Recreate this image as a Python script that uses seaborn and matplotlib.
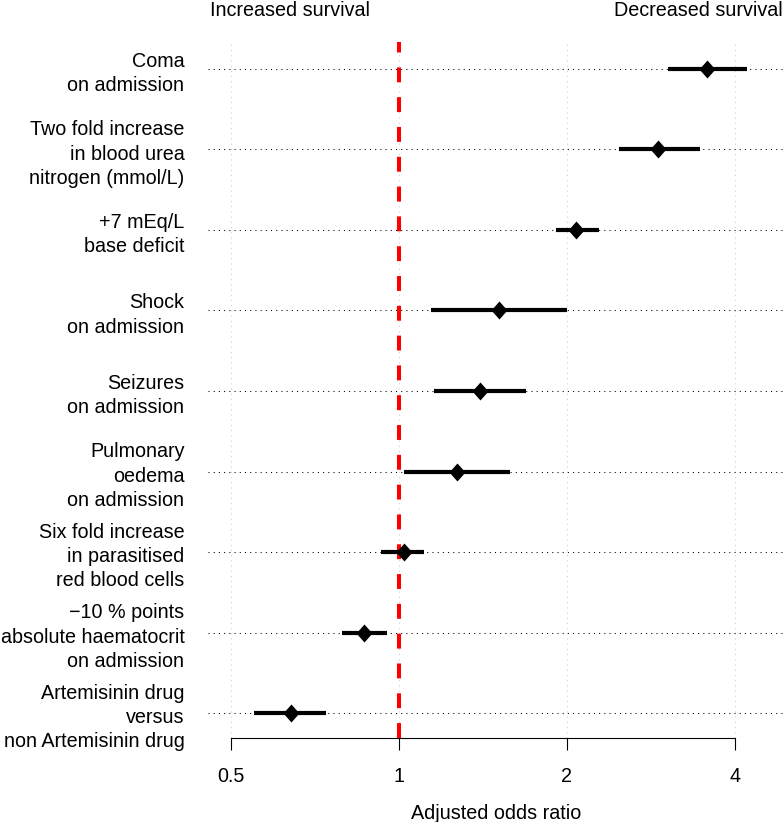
import matplotlib
matplotlib.use("Agg")
import matplotlib.pyplot as plt
import seaborn as sns
import pandas as pd
import numpy as np

labels = [
    "Coma\non admission",
    "Two fold increase\nin blood urea\nnitrogen (mmol/L)",
    "+7 mEq/L\nbase deficit",
    "Shock\non admission",
    "Seizures\non admission",
    "Pulmonary\noedema\non admission",
    "Six fold increase\nin parasitised\nred blood cells",
    "\u221210 % points\nabsolute haematocrit\non admission",
    "Artemisinin drug\nversus\nnon Artemisinin drug",
]
odds_ratio = [3.56, 2.91, 2.08, 1.51, 1.40, 1.27, 1.02, 0.866, 0.64]
ci_low = [3.03, 2.48, 1.91, 1.14, 1.155, 1.02, 0.93, 0.79, 0.55]
ci_high = [4.20, 3.46, 2.28, 2.00, 1.69, 1.58, 1.11, 0.952, 0.74]
x_ticks = [0.5, 1, 2, 4]
x_tick_labels = ["0.5", "1", "2", "4"]

df = pd.DataFrame({"label": labels, "or": odds_ratio, "lo": ci_low, "hi": ci_high})
df["row"] = np.arange(len(df))

sns.set_style("white")
plt.rcParams["font.family"] = ["Liberation Sans", "DejaVu Sans"]
plt.rcParams["text.color"] = "black"
plt.rcParams["axes.labelcolor"] = "black"
plt.rcParams["xtick.color"] = "black"
plt.rcParams["ytick.color"] = "black"

FS = 14.2

fig = plt.figure(figsize=(7.84, 8.22), dpi=100)
ax = fig.add_axes([208 / 784, 84 / 822, 576 / 784, 696 / 822])

ax.set_xscale("log", base=2)
ax.set_xlim(0.455, 4.90)
ax.set_ylim(8.31, -0.335)

# vertical grid
for xv in x_ticks:
    ax.axvline(xv, color="#cccccc", lw=0.75, ls=(0, (1, 4)), zorder=1)
# horizontal dotted guides
for r in df["row"]:
    ax.axhline(r, color="black", lw=0.75, ls=(0, (1, 4)), zorder=1)

# reference line
ax.axvline(1, color="#ff0000", lw=2.9, ls=(0, (3.7, 3.7)), zorder=2)

# CIs
ax.hlines(df["row"], df["lo"], df["hi"], color="black", lw=3.0, zorder=3)
diamond = [(0, 1), (0.89, 0), (0, -1), (-0.89, 0), (0, 1)]
sns.scatterplot(data=df, x="or", y="row", marker=diamond, s=168, color="black",
                edgecolor="black", linewidth=0, ax=ax, zorder=4, legend=False)

ax.set_yticks(df["row"])
ax.set_yticklabels(df["label"], fontsize=FS, linespacing=1.34)
ax.tick_params(axis="y", length=0, pad=17)

ax.set_xticks(x_ticks)
ax.set_xticklabels(x_tick_labels, fontsize=FS)
ax.xaxis.set_minor_locator(matplotlib.ticker.NullLocator())
ax.tick_params(axis="x", direction="out", length=8.6, width=0.8, pad=12, colors="black", bottom=True)

for s in ["top", "right", "left"]:
    ax.spines[s].set_visible(False)
ax.spines["bottom"].set_bounds(0.5, 4)
ax.spines["bottom"].set_color("black")
ax.spines["bottom"].set_linewidth(0.8)

ax.set_xlabel("Adjusted odds ratio", fontsize=FS, labelpad=13)
ax.set_ylabel("")

fig.text(210 / 784, 1 - 16 / 822, "Increased survival", fontsize=FS, ha="left", va="baseline")
fig.text(783 / 784, 1 - 16 / 822, "Decreased survival", fontsize=FS, ha="right", va="baseline")

fig.savefig("out.png", dpi=100)
